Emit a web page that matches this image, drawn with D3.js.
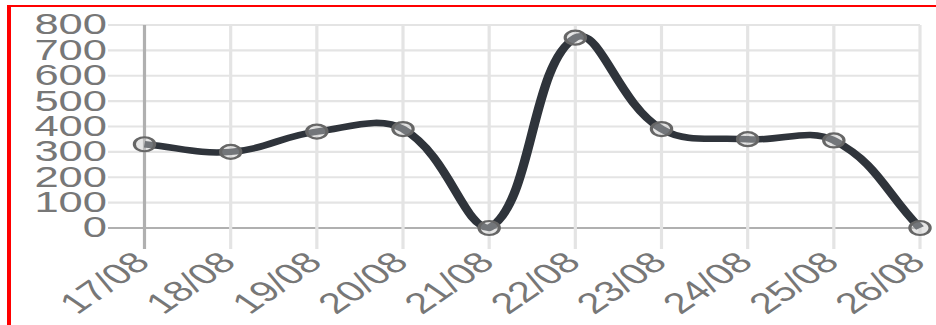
<!DOCTYPE html>
<html><head><meta charset="utf-8">
<script src="https://cdn.jsdelivr.net/npm/d3@7"></script>
<style>html,body{margin:0;padding:0;background:#fff;overflow:hidden}</style>
</head><body>
<script>
const categories = ["17/08","18/08","19/08","20/08","21/08","22/08","23/08","24/08","25/08","26/08"];
const values = [330, 300, 380, 390, 0, 750, 390, 350, 345, 0];
const yTicks = [0,100,200,300,400,500,600,700,800];

const W = 936, H = 325;
const sx = 1.45; // horizontal stretch of the whole picture
const svg = d3.select("body").append("svg").attr("width", W).attr("height", H);

// red frame (clipped on right/bottom)
svg.append("rect").attr("x",7).attr("y",5).attr("width",4).attr("height",H).attr("fill","#ff0000");
svg.append("rect").attr("x",7).attr("y",5).attr("width",W).attr("height",2).attr("fill","#ff0000");

const g = svg.append("g").attr("transform", `scale(${sx},1)`);

const x = d3.scalePoint().domain(categories).range([144.5/sx, 920/sx]);
const y = d3.scaleLinear().domain([0,800]).range([228,25]);

// horizontal grid
g.append("g").selectAll("line").data(yTicks).join("line")
  .attr("x1", 108/sx).attr("x2", x.range()[1])
  .attr("y1", d=>y(d)).attr("y2", d=>y(d))
  .attr("stroke", d=> d===0 ? "#b0b0b0" : "#e4e4e4").attr("stroke-width", 2.2);
// vertical grid
g.append("g").selectAll("line").data(categories).join("line")
  .attr("x1", d=>x(d)).attr("x2", d=>x(d))
  .attr("y1", y(800)).attr("y2", 249)
  .attr("stroke", (d,i)=> i===0 ? "#b0b0b0" : "#e4e4e4").attr("stroke-width", 2.2);

// y labels
g.append("g").selectAll("text").data(yTicks).join("text")
  .attr("x", 107/sx).attr("y", d=>y(d)-1)
  .attr("dy","0.35em")
  .attr("text-anchor","end")
  .attr("font-family","Liberation Sans, Arial, sans-serif")
  .attr("font-size", 30).attr("fill","#777")
  .text(d=>d);

// x labels
g.append("g").selectAll("text").data(categories).join("text")
  .attr("transform", d=>`translate(${x(d)+5},${264}) rotate(-45)`)
  .attr("text-anchor","end")
  .attr("font-family","Liberation Sans, Arial, sans-serif")
  .attr("font-size", 29).attr("fill","#777")
  .text(d=>d);

// Chart.js-style spline (tension 0.4, capped to chart area)
function chartSpline(context) {
  let pts = [];
  return {
    areaStart(){}, areaEnd(){},
    lineStart(){ pts = []; },
    point(px, py){ pts.push([px, py]); },
    lineEnd(){
      const t = 0.4, n = pts.length;
      const top = y(800), bot = y(0);
      const cps = pts.map((p, i) => {
        const prev = pts[Math.max(0, i-1)], next = pts[Math.min(n-1, i+1)];
        const d01 = Math.hypot(p[0]-prev[0], p[1]-prev[1]);
        const d12 = Math.hypot(next[0]-p[0], next[1]-p[1]);
        let s01 = d01/(d01+d12 || 1), s12 = d12/(d01+d12 || 1);
        const fa = t*s01, fb = t*s12;
        const cl = [p[0]-fa*(next[0]-prev[0]), p[1]-fa*(next[1]-prev[1])];
        const cr = [p[0]+fb*(next[0]-prev[0]), p[1]+fb*(next[1]-prev[1])];
        cl[1] = Math.max(top, Math.min(bot, cl[1]));
        cr[1] = Math.max(top, Math.min(bot, cr[1]));
        return {cl, cr};
      });
      context.moveTo(pts[0][0], pts[0][1]);
      for (let i = 1; i < n; i++) {
        context.bezierCurveTo(cps[i-1].cr[0], cps[i-1].cr[1], cps[i].cl[0], cps[i].cl[1], pts[i][0], pts[i][1]);
      }
    }
  };
}

const line = d3.line()
  .x((d,i)=>x(categories[i]))
  .y(d=>y(d))
  .curve(chartSpline);
g.append("path").datum(values)
  .attr("d", line)
  .attr("fill","none").attr("stroke","#2f343b").attr("stroke-width",6.5)
  .attr("stroke-linejoin","round");

// points
g.append("g").selectAll("circle").data(values).join("circle")
  .attr("cx",(d,i)=>x(categories[i])).attr("cy", d=>y(d))
  .attr("r", 7)
  .attr("fill","rgba(200,200,200,0.45)")
  .attr("stroke","#666").attr("stroke-width",2.2);
</script>
</body></html>
